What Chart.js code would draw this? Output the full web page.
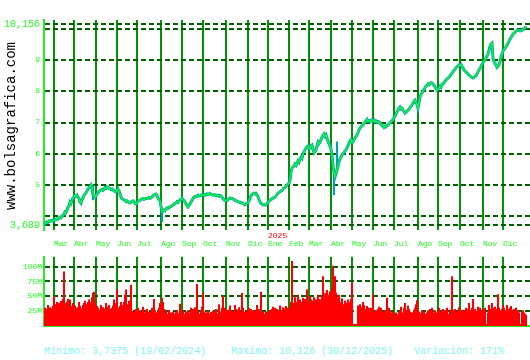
<!DOCTYPE html>
<html><head><meta charset="utf-8">
<script src="https://cdn.jsdelivr.net/npm/chart.js@4.4.1/dist/chart.umd.min.js"></script>
<style>
html,body{margin:0;padding:0;background:#fff;width:530px;height:360px;overflow:hidden;position:relative;font-family:'Liberation Mono',monospace}
#c1{position:absolute;left:0;top:0}
#c2{position:absolute;left:0;top:250px}
#site{position:absolute;left:-74px;top:118px;width:170px;height:16px;line-height:16px;font-size:14px;text-align:center;color:#000;transform:rotate(-90deg);white-space:nowrap}
.foot{position:absolute;top:345px;font-size:10px;color:#7ff4f4;white-space:nowrap;line-height:14px}
</style></head>
<body>
<canvas id="c1" width="530" height="250"></canvas>
<canvas id="c2" width="530" height="85"></canvas>
<div id="site">www.bolsagrafica.com</div>
<div class="foot" style="left:44px">Minimo: 3,7375 (19/02/2024)</div>
<div class="foot" style="left:231px">Maximo: 10,126 (30/12/2025)</div>
<div class="foot" style="left:414px">Variación: 171%</div>
<script>
const FONT = "'Liberation Mono', 'DejaVu Sans Mono', monospace";

// Trading-day index positions of month starts (Mar 2024 .. Dic 2025)
const monthTicks = [10,30,52,73,93,117,138,159,182,204,224,245,265,287,308,329,350,374,394,416,439,459];
const monthLabels = ['Mar','Abr','May','Jun','Jul','Ago','Sep','Oct','Nov','Dic','Ene','Feb','Mar','Abr','May','Jun','Jul','Ago','Sep','Oct','Nov','Dic'];
const yearLabel = '2025';
const yearTickIndex = 10;

const priceTicks = [3.689,4,5,6,7,8,9,10,10.156];
const priceTickLabels = ['3,689','','5','6','7','8','9','','10,156'];

const volTicks = [25,50,75,100];
const volLabels = ['25M','50M','75M','100M'];

// daily closes
const closes = [
3.76,3.74,3.78,3.80,3.79,3.83,3.82,3.84,3.85,3.83,
3.86,3.88,3.87,3.90,3.89,3.92,3.95,3.93,3.99,4.02,
4.05,4.12,4.10,4.18,4.28,4.32,4.44,4.40,4.50,4.57,
4.60,4.64,4.62,4.66,4.60,4.55,4.44,4.40,4.51,4.58,
4.66,4.70,4.74,4.80,4.86,4.90,4.95,4.99,4.88,4.67,
4.62,4.60,4.66,4.70,4.73,4.78,4.80,4.83,4.85,4.82,
4.86,4.90,4.88,4.93,4.91,4.88,4.86,4.84,4.86,4.83,
4.80,4.78,4.76,4.82,4.86,4.80,4.70,4.60,4.55,4.53,
4.51,4.50,4.46,4.48,4.45,4.43,4.41,4.44,4.46,4.48,
4.45,4.40,4.38,4.42,4.46,4.48,4.50,4.52,4.54,4.55,
4.53,4.54,4.56,4.55,4.57,4.59,4.56,4.57,4.60,4.64,
4.67,4.69,4.70,4.66,4.57,4.52,4.48,4.30,4.12,4.15,
4.18,4.16,4.22,4.25,4.24,4.27,4.28,4.30,4.32,4.35,
4.37,4.40,4.41,4.45,4.43,4.48,4.50,4.54,4.57,4.52,
4.48,4.44,4.38,4.32,4.28,4.33,4.38,4.44,4.50,4.55,
4.60,4.62,4.61,4.64,4.66,4.63,4.64,4.66,4.68,4.67,
4.65,4.68,4.67,4.70,4.68,4.70,4.72,4.69,4.67,4.66,
4.68,4.67,4.65,4.66,4.64,4.62,4.65,4.64,4.60,4.55,
4.51,4.49,4.50,4.48,4.52,4.55,4.57,4.55,4.56,4.54,
4.52,4.50,4.48,4.47,4.45,4.44,4.42,4.43,4.41,4.39,
4.37,4.35,4.38,4.40,4.41,4.48,4.56,4.64,4.68,4.71,
4.73,4.70,4.72,4.67,4.62,4.52,4.44,4.40,4.37,4.35,
4.36,4.34,4.35,4.38,4.44,4.46,4.50,4.52,4.54,4.57,
4.58,4.60,4.64,4.68,4.73,4.75,4.77,4.80,4.82,4.85,
4.89,4.91,4.95,4.99,5.02,5.05,5.12,5.40,5.53,5.57,
5.60,5.66,5.62,5.70,5.76,5.72,5.84,5.89,5.85,6.00,
6.05,6.12,6.18,6.22,6.24,6.16,6.18,6.26,6.28,6.12,
6.02,6.06,6.11,6.25,6.37,6.32,6.36,6.45,6.53,6.58,
6.63,6.56,6.60,6.48,6.40,6.32,6.24,6.15,5.95,5.63,
5.40,5.25,5.35,5.47,5.60,5.73,5.82,5.89,5.95,5.99,
6.03,6.08,6.12,6.18,6.26,6.34,6.40,6.44,6.36,6.37,
6.44,6.50,6.55,6.60,6.68,6.76,6.82,6.86,6.89,6.92,
6.97,7.02,7.05,7.10,7.04,7.06,7.03,7.07,7.09,7.05,
7.08,7.03,7.05,7.01,7.03,7.02,6.98,6.95,6.90,6.89,
6.84,6.88,6.86,6.90,6.92,6.95,6.99,7.02,7.06,7.10,
7.15,7.20,7.27,7.34,7.40,7.46,7.50,7.44,7.46,7.40,
7.36,7.30,7.33,7.36,7.40,7.43,7.48,7.52,7.56,7.62,
7.68,7.72,7.66,7.58,7.46,7.65,7.82,7.90,7.96,8.01,
8.06,8.12,8.17,8.20,8.24,8.21,8.25,8.28,8.27,8.24,
8.20,8.14,8.09,8.04,8.08,8.12,8.17,8.14,8.22,8.24,
8.28,8.33,8.37,8.40,8.43,8.46,8.50,8.55,8.59,8.63,
8.68,8.72,8.76,8.80,8.82,8.85,8.84,8.87,8.80,8.76,
8.69,8.66,8.63,8.59,8.56,8.53,8.50,8.47,8.45,8.43,
8.45,8.47,8.50,8.56,8.63,8.69,8.75,8.80,8.88,8.93,
8.97,9.01,9.08,9.14,9.20,9.32,9.46,9.52,9.55,9.07,
8.96,8.91,8.85,8.78,8.82,8.85,8.98,9.10,9.20,9.30,
9.35,9.39,9.44,9.49,9.55,9.62,9.68,9.74,9.79,9.84,
9.88,9.91,9.94,9.96,9.97,9.97,9.95,9.97,9.97,9.99,
10.01,10.05,10.10
];

// intraday extremes that stick out of the close line: [day, low, high]
const wicks = [[49,4.51,4.99],[118,3.81,4.25],[290,4.67,5.47],[293,5.50,6.38]];

// daily volume, millions
const volumes = [
24,30,22,28,35,26,31,24,29,33,
50,28,36,40,32,38,30,42,35,45,
91,38,34,40,45,36,44,33,30,38,
28,34,30,26,31,40,33,29,27,35,
38,42,33,36,40,44,35,39,48,55,
57,40,28,33,30,22,27,35,24,31,
26,29,38,32,30,35,28,25,30,34,
44,38,36,61,30,28,33,40,30,35,
40,52,61,36,30,42,38,69,25,20,
24,22,28,18,30,22,26,20,24,32,
22,19,25,28,21,24,20,23,30,18,
45,26,22,20,24,30,38,35,47,40,
28,22,25,18,20,26,19,22,15,24,
20,17,23,26,21,19,37,28,22,25,
18,20,24,21,26,19,22,30,24,28,
25,31,28,70,24,20,18,26,32,55,
24,20,22,18,26,21,16,23,20,25,
22,24,28,19,21,36,18,24,30,50,
22,30,25,20,27,22,34,26,18,24,
22,35,28,20,26,31,24,21,55,30,
24,23,18,25,22,30,24,28,21,26,
20,25,22,35,24,28,22,57,18,24,
20,16,24,22,18,26,25,20,28,32,
24,30,22,28,20,26,34,23,27,31,
25,29,33,30,28,26,32,40,109,38,
36,48,40,33,52,38,44,35,40,47,
38,45,42,61,40,36,50,44,38,42,
48,40,44,38,52,45,3,44,50,83,
46,55,43,60,48,52,58,40,62,101,
60,83,56,48,44,52,40,38,46,36,
35,42,38,30,44,40,36,45,73,3,
3,3,3,3,34,30,36,32,26,40,
35,28,24,33,26,30,22,30,28,53,
24,20,26,22,28,32,25,30,21,24,
22,26,24,47,20,30,26,22,19,24,
20,18,22,19,17,24,21,32,19,22,
30,38,22,26,34,28,24,20,22,18,
25,30,36,43,20,24,18,21,26,22,
24,20,17,22,26,20,28,24,30,22,
20,26,19,22,24,30,18,25,20,28,
24,26,22,30,20,18,27,24,83,26,
22,28,25,20,24,31,27,22,25,20,
26,24,30,22,28,38,20,26,30,45,
22,28,20,25,32,24,30,26,22,28,
24,30,3,3,22,35,28,24,38,30,
26,32,28,24,53,30,26,22,28,34,
30,24,26,35,28,22,30,33,26,24,
28,22,30,20,26,22,3,3,24,26,
22,20,18
];

const DAYS = 486;
const LIME = '#22ff22';
const AXIS = '#22ee22';
const VGRID = '#009500';
const HGRID = '#006000';

const yearPlugin = {
  id: 'yearLabel',
  afterDraw(chart) {
    const xs = chart.scales.x;
    const px = xs.getPixelForValue(monthTicks[yearTickIndex]);
    const ctx = chart.ctx;
    ctx.save();
    ctx.fillStyle = '#ff0000';
    ctx.font = '8px ' + FONT;
    ctx.textAlign = 'left';
    ctx.textBaseline = 'middle';
    ctx.fillText(yearLabel, px, chart.chartArea.bottom + 6);
    ctx.restore();
  }
};

const noPad = s => { s.paddingLeft = 0; s.paddingRight = 0; };
const closePts = closes.map((v, i) => ({x: i, y: v}));

new Chart(document.getElementById('c1'), {
  data: {
    datasets: [
      {type: 'bar', data: wicks.map(w => ({x: w[0], y: [w[1], w[2]]})), backgroundColor: '#00a0b0', barThickness: 1.5, order: 3},
      {type: 'line', data: closePts, borderColor: '#00a0b0', borderWidth: 3, pointRadius: 0, tension: 0, order: 2},
      {type: 'line', data: closePts, borderColor: '#10f040', borderWidth: 1.6, pointRadius: 0, tension: 0, order: 1}
    ]
  },
  options: {
    responsive: false, animation: false, devicePixelRatio: 1,
    layout: {padding: {top: 20, left: 0, right: 0, bottom: 0}},
    plugins: {legend: {display: false}, tooltip: {enabled: false}},
    scales: {
      x: {
        type: 'linear', min: 0, max: DAYS, offset: false,
        afterBuildTicks: s => { s.ticks = monthTicks.map(v => ({value: v})); },
        afterFit: s => { s.height = 20; noPad(s); },
        grid: {color: VGRID, lineWidth: 2, drawTicks: false, offset: false},
        border: {display: false},
        ticks: {align: 'start', padding: 9, color: LIME, font: {family: FONT, size: 8},
                autoSkip: false, maxRotation: 0, callback: (v, i) => monthLabels[i]}
      },
      y: {
        type: 'linear', min: 3.54, max: 10.3,
        afterBuildTicks: s => { s.ticks = priceTicks.map(v => ({value: v})); },
        afterFit: s => { s.width = 44; },
        grid: {color: HGRID, lineWidth: 2, drawTicks: false},
        border: {display: true, color: AXIS, width: 2, dash: [5, 3]},
        ticks: {padding: 4, color: LIME, autoSkip: false,
                font: ctx => ({family: FONT, size: (ctx.index === 0 || ctx.index === priceTicks.length - 1) ? 10 : 7.5}),
                callback: (v, i) => priceTickLabels[i]}
      }
    }
  },
  plugins: [yearPlugin]
});

new Chart(document.getElementById('c2'), {
  type: 'bar',
  data: {
    datasets: [{data: volumes.map((v, i) => ({x: i, y: v})), backgroundColor: '#ff0000', barThickness: 1.4, borderWidth: 0}]
  },
  options: {
    responsive: false, animation: false, devicePixelRatio: 1,
    layout: {padding: 0},
    plugins: {legend: {display: false}, tooltip: {enabled: false}},
    scales: {
      x: {
        type: 'linear', min: 0, max: DAYS, offset: false,
        afterBuildTicks: s => { s.ticks = monthTicks.map(v => ({value: v})); },
        afterFit: s => { s.height = 9; noPad(s); },
        grid: {color: VGRID, lineWidth: 2, drawTicks: false, offset: false},
        border: {display: true, color: AXIS, width: 2},
        ticks: {display: false}
      },
      y: {
        type: 'linear', min: 0, max: 116.5,
        afterBuildTicks: s => { s.ticks = volTicks.map(v => ({value: v})); },
        afterFit: s => { s.width = 44; },
        grid: {color: HGRID, lineWidth: 2, drawTicks: false},
        border: {display: true, color: AXIS, width: 2, dash: [5, 3]},
        ticks: {padding: 2, color: LIME, font: {family: FONT, size: 8}, callback: (v, i) => volLabels[i]}
      }
    }
  }
});
</script>
</body></html>
